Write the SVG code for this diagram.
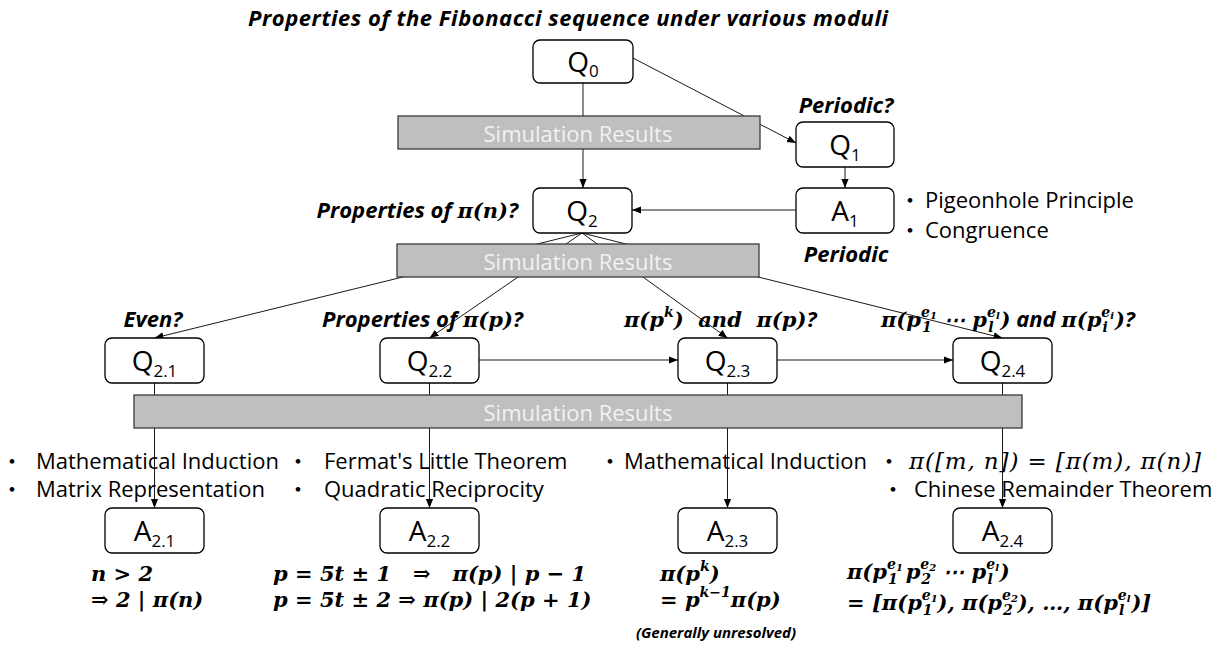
<svg xmlns="http://www.w3.org/2000/svg" width="1231" height="671" viewBox="0 0 1231 671">
<style>
.box{fill:#fff;stroke:#000;stroke-width:1.3}
.bar{fill:#bfbfbf;stroke:#3a3a3a;stroke-width:1.3}
.bt{font-family:"Open Sans",sans-serif;font-size:22px;fill:#f2f2f2;text-anchor:middle}
.lbl{font-family:"Open Sans",sans-serif;font-size:28px;text-anchor:middle;fill:#000}
.sb{font-size:17px}
.q{font-family:"Open Sans",sans-serif;font-weight:bold;font-style:italic;font-size:22px;fill:#000}
.m{font-family:"DejaVu Serif",serif;font-weight:bold;font-style:italic;font-size:21px;fill:#000}
.mr{font-family:"DejaVu Serif",serif;font-style:italic;font-size:23px;fill:#000}
.t{font-family:"Open Sans","Noto Sans CJK JP",sans-serif;font-size:22px;fill:#000}
.sp{font-size:14px}
.ss{font-size:10px}
.conn line{stroke:#1a1a1a;stroke-width:1;marker-end:url(#ah)}
.note{font-family:"Open Sans",sans-serif;font-weight:bold;font-style:italic;font-size:15px;text-anchor:middle}
</style>
<defs>
<marker id="ah" viewBox="0 0 10 10" refX="10" refY="5" markerWidth="9" markerHeight="9" markerUnits="userSpaceOnUse" orient="auto"><path d="M0,1 L10,5 L0,9 z" fill="#000"/></marker>
</defs>
<rect width="1231" height="671" fill="#fff"/>
<text class="q" x="248" y="26" textLength="640">Properties of the Fibonacci sequence under various moduli</text>
<g class="conn" id="connectors">
<line x1="583" y1="83" x2="583" y2="188"/>
<line x1="633" y1="58" x2="796" y2="143"/>
<line x1="845" y1="167" x2="845" y2="188"/>
<line x1="796" y1="210" x2="632" y2="210"/>
<line x1="582" y1="233" x2="154.5" y2="338"/>
<line x1="582" y1="233" x2="429.5" y2="338"/>
<line x1="582" y1="233" x2="727.5" y2="338"/>
<line x1="582" y1="233" x2="1002.5" y2="338"/>
<line x1="479" y1="360" x2="678" y2="360"/>
<line x1="777" y1="360" x2="953" y2="360"/>
<line x1="154.5" y1="383" x2="154.5" y2="508"/>
<line x1="429.5" y1="383" x2="429.5" y2="508"/>
<line x1="727.5" y1="383" x2="727.5" y2="508"/>
<line x1="1002.5" y1="383" x2="1002.5" y2="508"/>
</g>
<g id="sim1"><rect class="bar" x="398" y="116" width="362" height="33"/><text class="bt" x="578" y="142">Simulation Results</text></g>
<g id="sim2"><rect class="bar" x="397" y="244" width="362" height="33"/><text class="bt" x="578" y="270">Simulation Results</text></g>
<g id="sim3"><rect class="bar" x="134" y="395" width="888" height="33"/><text class="bt" x="578" y="421">Simulation Results</text></g>

<g id="Q0"><rect class="box" x="533" y="40" width="100" height="43" rx="7"/><text class="lbl" x="583" y="72">Q<tspan class="sb" dy="5">0</tspan></text></g>
<g id="Q1"><rect class="box" x="796" y="122" width="98" height="45" rx="7"/><text class="lbl" x="845" y="155">Q<tspan class="sb" dy="6">1</tspan></text>
<text class="q" x="846" y="113" text-anchor="middle">Periodic?</text></g>
<g id="A1"><rect class="box" x="796" y="188" width="98" height="45" rx="7"/><text class="lbl" x="845" y="221">A<tspan class="sb" dy="6">1</tspan></text>
<text class="t" y="208"><tspan x="899">・</tspan><tspan x="925">Pigeonhole Principle</tspan></text>
<text class="t" y="238"><tspan x="899">・</tspan><tspan x="925">Congruence</tspan></text>
<text class="q" x="846" y="262" text-anchor="middle">Periodic</text></g>
<g id="Q2"><rect class="box" x="533" y="188" width="99" height="45" rx="7"/><text class="lbl" x="582" y="221">Q<tspan class="sb" dy="6">2</tspan></text>
<text class="q" x="518" y="218" text-anchor="end">Properties of <tspan class="m">π(n)</tspan>?</text></g>

<g id="Q21"><rect class="box" x="105" y="338" width="99" height="45" rx="7"/><text class="lbl" x="154.5" y="371">Q<tspan class="sb" dy="6">2.1</tspan></text>
<text class="q" x="153" y="327" text-anchor="middle">Even?</text></g>
<g id="Q22"><rect class="box" x="380" y="338" width="99" height="45" rx="7"/><text class="lbl" x="429.5" y="371">Q<tspan class="sb" dy="6">2.2</tspan></text>
<text class="q" x="322" y="327">Properties of <tspan class="m">π(p)</tspan>?</text></g>
<g id="Q23"><rect class="box" x="678" y="338" width="99" height="45" rx="7"/><text class="lbl" x="727.5" y="371">Q<tspan class="sb" dy="6">2.3</tspan></text>
<text class="m" x="624" y="327">π(p<tspan class="sp" dy="-10">k</tspan><tspan dy="10">)&#160; and&#160; π(p)</tspan><tspan class="q">?</tspan></text></g>
<g id="Q24"><rect class="box" x="953" y="338" width="99" height="45" rx="7"/><text class="lbl" x="1002.5" y="371">Q<tspan class="sb" dy="6">2.4</tspan></text>
<text class="m" x="881" y="327">π(p<tspan class="sp" dy="-10">e</tspan><tspan class="ss" dy="2">1</tspan><tspan class="sp" dx="-15" dy="13">1</tspan><tspan dx="5" dy="-5"> ⋯ p</tspan><tspan class="sp" dy="-10">e</tspan><tspan class="ss" dy="2">l</tspan><tspan class="sp" dx="-11.5" dy="13">l</tspan><tspan dx="7" dy="-5">)</tspan><tspan class="q"> and </tspan>π(p<tspan class="sp" dy="-10">e</tspan><tspan class="ss" dy="2">i</tspan><tspan class="sp" dx="-11.5" dy="13">i</tspan><tspan dx="7" dy="-5">)</tspan><tspan class="q">?</tspan></text></g>

<g id="notes">
<text class="t" y="469"><tspan x="1">・</tspan><tspan x="36">Mathematical Induction</tspan></text>
<text class="t" y="497"><tspan x="1">・</tspan><tspan x="36">Matrix Representation</tspan></text>
<text class="t" y="469"><tspan x="287">・</tspan><tspan x="324">Fermat's Little Theorem</tspan></text>
<text class="t" y="497"><tspan x="287">・</tspan><tspan x="324">Quadratic Reciprocity</tspan></text>
<text class="t" y="469"><tspan x="599">・</tspan><tspan x="624">Mathematical Induction</tspan></text>
<text class="t" y="469"><tspan x="878">・</tspan></text>
<text class="mr" x="909" y="469" textLength="292">π([m, n]) = [π(m), π(n)]</text>
<text class="t" y="497"><tspan x="882">・</tspan><tspan x="914">Chinese Remainder Theorem</tspan></text>
</g>

<g id="A21"><rect class="box" x="105" y="508" width="99" height="45" rx="7"/><text class="lbl" x="154.5" y="541">A<tspan class="sb" dy="6">2.1</tspan></text>
<text class="m" x="91" y="581">n &gt; 2</text>
<text class="m" x="91" y="607">⇒ 2 | π(n)</text></g>
<g id="A22"><rect class="box" x="380" y="508" width="99" height="45" rx="7"/><text class="lbl" x="429.5" y="541">A<tspan class="sb" dy="6">2.2</tspan></text>
<text class="m" x="273" y="581">p = 5t ± 1 &#160; ⇒ &#160; π(p) | p − 1</text>
<text class="m" x="273" y="607">p = 5t ± 2 ⇒ π(p) | 2(p + 1)</text></g>
<g id="A23"><rect class="box" x="678" y="508" width="99" height="45" rx="7"/><text class="lbl" x="727.5" y="541">A<tspan class="sb" dy="6">2.3</tspan></text>
<text class="m" x="660" y="581">π(p<tspan class="sp" dy="-10">k</tspan><tspan dy="10">)</tspan></text>
<text class="m" x="660" y="607">= p<tspan class="sp" dy="-10">k−1</tspan><tspan dy="10">π(p)</tspan></text>
<text class="note" x="716" y="638">(Generally unresolved)</text></g>
<g id="A24"><rect class="box" x="953" y="508" width="99" height="45" rx="7"/><text class="lbl" x="1002.5" y="541">A<tspan class="sb" dy="6">2.4</tspan></text>
<text class="m" x="847" y="579">π(p<tspan class="sp" dy="-10">e</tspan><tspan class="ss" dy="2">1</tspan><tspan class="sp" dx="-15" dy="13">1</tspan><tspan dx="8" dy="-5">p</tspan><tspan class="sp" dy="-10">e</tspan><tspan class="ss" dy="2">2</tspan><tspan class="sp" dx="-15" dy="13">2</tspan><tspan dx="5" dy="-5"> ⋯ p</tspan><tspan class="sp" dy="-10">e</tspan><tspan class="ss" dy="2">l</tspan><tspan class="sp" dx="-11.5" dy="13">l</tspan><tspan dx="7" dy="-5">)</tspan></text>
<text class="m" x="847" y="610">= [π(p<tspan class="sp" dy="-10">e</tspan><tspan class="ss" dy="2">1</tspan><tspan class="sp" dx="-15" dy="13">1</tspan><tspan dx="5" dy="-5">), π(p</tspan><tspan class="sp" dy="-10">e</tspan><tspan class="ss" dy="2">2</tspan><tspan class="sp" dx="-15" dy="13">2</tspan><tspan dx="5" dy="-5">), …, π(p</tspan><tspan class="sp" dy="-10">e</tspan><tspan class="ss" dy="2">l</tspan><tspan class="sp" dx="-11.5" dy="13">l</tspan><tspan dx="7" dy="-5">)]</tspan></text></g>
</svg>
